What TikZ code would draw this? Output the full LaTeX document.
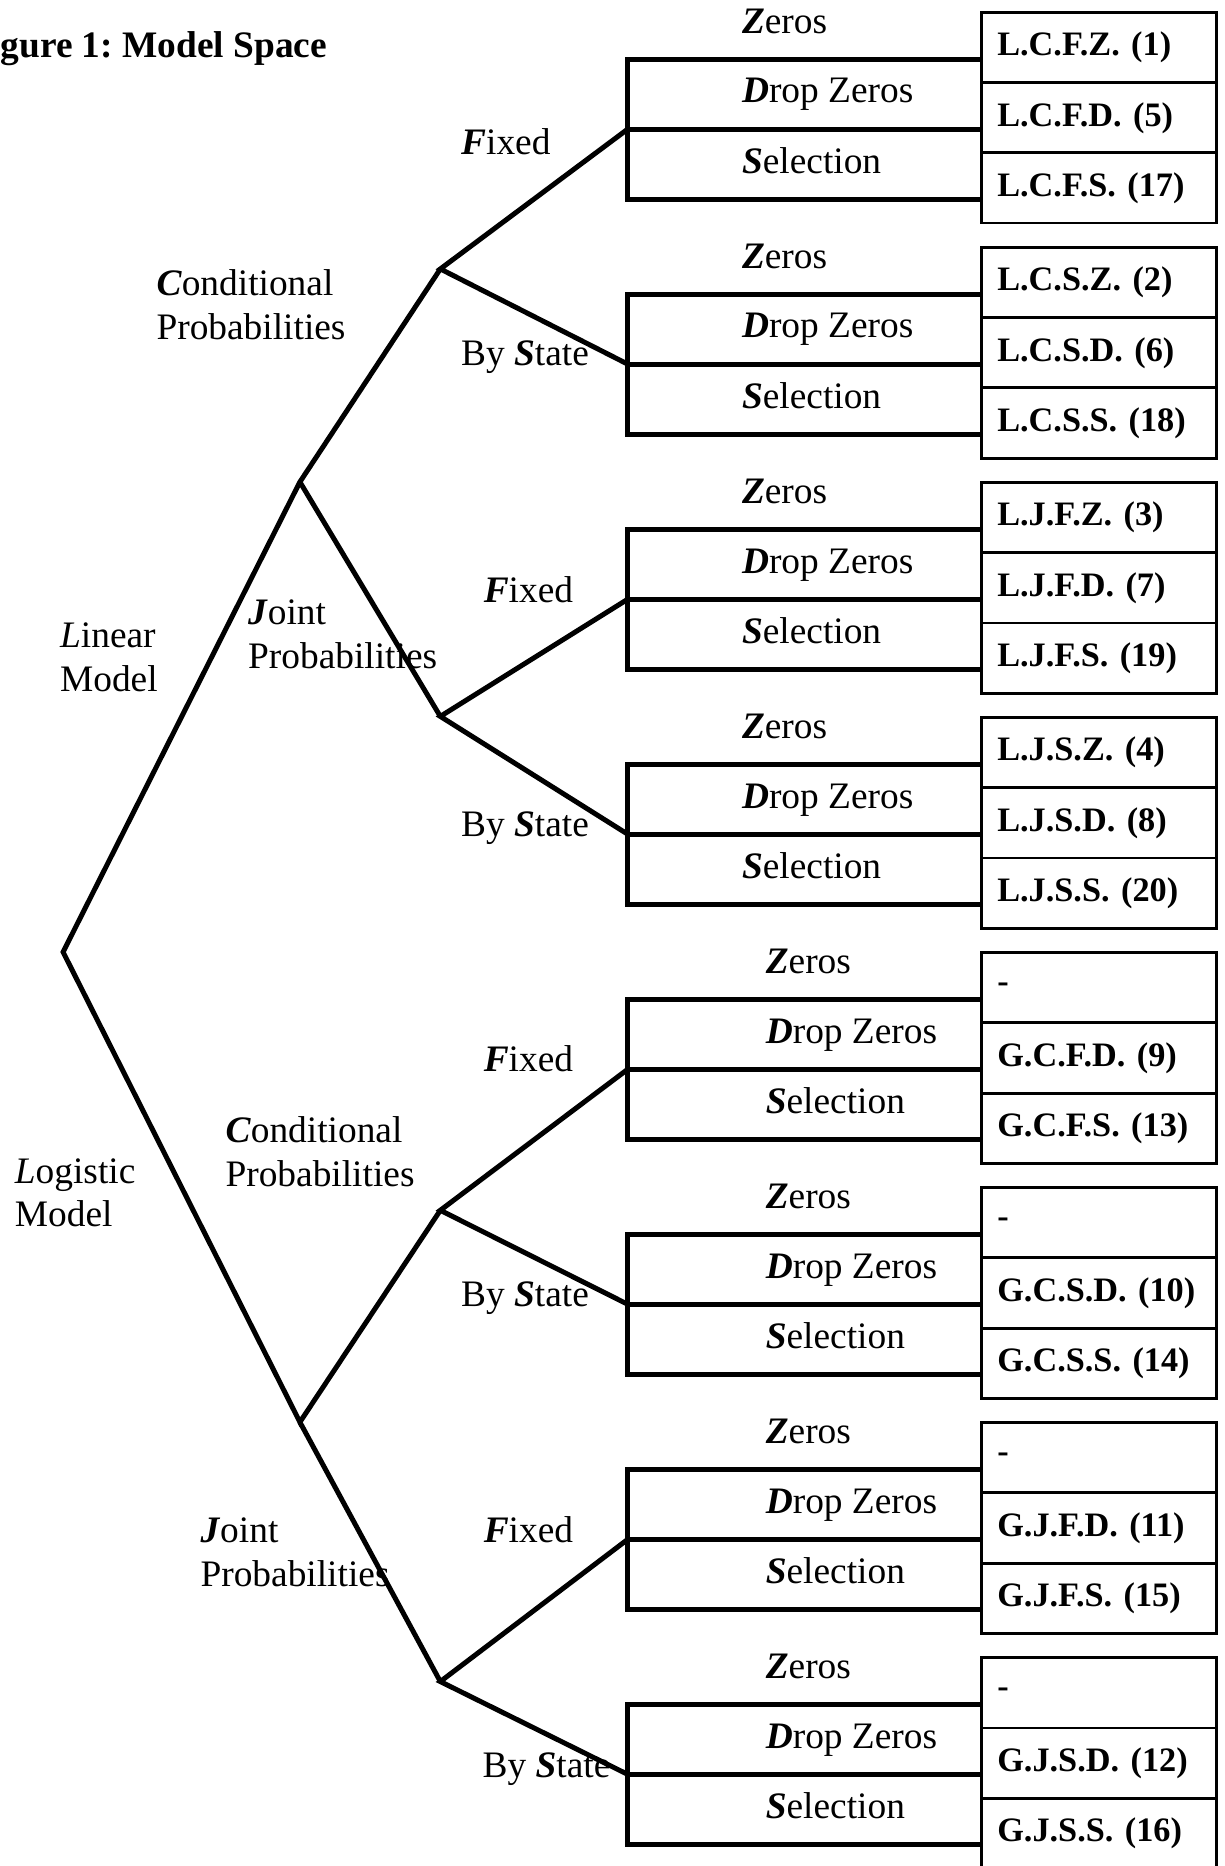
\documentclass[tikz,border=0pt]{standalone}
\usepackage{fontspec}
\setmainfont{Liberation Serif}
\usepackage{tikz}
\newcommand{\initl}[1]{\textbf{\textit{#1}}}
\frenchspacing

\begin{document}
\begin{tikzpicture}[x=0.382pt,y=-0.382pt,
    font=\fontsize{12}{14.1}\selectfont,
    tree/.style={line width=1.6pt},
    cell/.style={draw,line width=0.9pt,minimum width=75.3pt,minimum height=22.5pt,
      text width=65.3pt,inner xsep=5pt,align=left,font=\fontsize{11}{13}\selectfont\bfseries},
    lbl/.style={anchor=base west,inner sep=0pt,align=left}]
  \useasboundingbox (0,0) rectangle (1029,1568);
  \node[lbl,font=\fontsize{12}{14.1}\selectfont\bfseries] (title) at (0,48) {gure 1: Model Space};
  \coordinate (root) at (53,800);
  \coordinate (lin) at (252,405);
  \coordinate (logi) at (252,1195);
  \coordinate (lincond) at (370,226);
  \coordinate (linjoint) at (370,602);
  \coordinate (logcond) at (370,1017);
  \coordinate (logjoint) at (370,1413);
  \foreach \k/\za/\zb/\zc in {1/L.C.F.Z. (1)/L.C.F.D. (5)/L.C.F.S. (17),
      2/L.C.S.Z. (2)/L.C.S.D. (6)/L.C.S.S. (18),
      3/L.J.F.Z. (3)/L.J.F.D. (7)/L.J.F.S. (19),
      4/L.J.S.Z. (4)/L.J.S.D. (8)/L.J.S.S. (20),
      5/-/G.C.F.D. (9)/G.C.F.S. (13),
      6/-/G.C.S.D. (10)/G.C.S.S. (14),
      7/-/G.J.F.D. (11)/G.J.F.S. (15),
      8/-/G.J.S.D. (12)/G.J.S.S. (16)}{
    \pgfmathsetmacro\T{50+197.5*(\k-1)}
    \pgfmathsetmacro\tx{\k<5 ? 623 : 643}
    \coordinate (t\k) at (527.5,\T);
    \coordinate (m\k) at (527.5,\T+58.5);
    \coordinate (u\k) at (527.5,\T+117.5);
    \node[cell] (ra\k) at (923.5,\T-10) {\za};
    \node[cell] (rb\k) at (923.5,\T+49) {\zb};
    \node[cell] (rc\k) at (923.5,\T+108) {\zc};
    \draw[tree] (t\k -| ra\k.west) -- (t\k) -- (u\k) -- (u\k -| rc\k.west);
    \draw[tree] (m\k) -- (m\k -| rb\k.west);
    \node[lbl] (zer\k) at (\tx,\T-22) {\initl{Z}eros};
    \node[lbl] (drop\k) at (\tx,\T+36.5) {\initl{D}rop Zeros};
    \node[lbl] (sel\k) at (\tx,\T+95.5) {\initl{S}election};
  }
  \draw[tree] (lincond) -- (lin) -- (root) -- (logi) -- (logcond);
  \draw[tree] (lin) -- (linjoint);
  \draw[tree] (logi) -- (logjoint);
  \draw[tree] (m1) -- (lincond) -- (m2);
  \draw[tree] (m3) -- (linjoint) -- (m4);
  \draw[tree] (m5) -- (logcond) -- (m6);
  \draw[tree] (m7) -- (logjoint) -- (m8);
  \node[lbl] (linear) at (50,581) {\textit{L}inear\\Model};
  \node[lbl] (logistic) at (12,1031) {\textit{L}ogistic\\Model};
  \node[lbl] (lcond) at (131,285) {\initl{C}onditional\\Probabilities};
  \node[lbl] (ljoint) at (208,562) {\initl{J}oint\\Probabilities};
  \node[lbl] (gcond) at (189,997) {\initl{C}onditional\\Probabilities};
  \node[lbl] (gjoint) at (168,1333) {\initl{J}oint\\Probabilities};
  \foreach \n/\px/\py in {1/387/130,3/406/506,5/406/900,7/406/1296}
    \node[lbl] (fix\n) at (\px,\py) {\initl{F}ixed};
  \foreach \n/\px/\py in {2/387/307,4/387/703,6/387/1098,8/405/1494}
    \node[lbl] (state\n) at (\px,\py) {By \initl{S}tate};
\end{tikzpicture}
\end{document}
